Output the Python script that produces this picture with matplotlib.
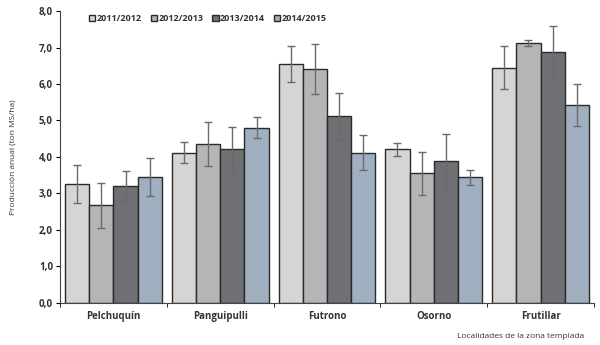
import matplotlib.pyplot as plt
import numpy as np

plt.rcParams['font.family'] = ['Open Sans', 'DejaVu Sans']

localidades = ['Pelchuquín', 'Panguipulli', 'Futrono', 'Osorno', 'Frutillar']
temporadas = ['2011/2012', '2012/2013', '2013/2014', '2014/2015']

v_2011 = [3.25, 4.12, 6.54, 4.21, 6.45]
v_2012 = [2.68, 4.36, 6.42, 3.55, 7.12]
v_2013 = [3.20, 4.21, 5.12, 3.88, 6.89]
v_2014 = [3.45, 4.80, 4.12, 3.44, 5.42]

e_2011 = [0.52, 0.29, 0.49, 0.18, 0.58]
e_2012 = [0.62, 0.60, 0.69, 0.60, 0.08]
e_2013 = [0.42, 0.60, 0.62, 0.76, 0.70]
e_2014 = [0.52, 0.29, 0.49, 0.20, 0.57]

valores = [v_2011, v_2012, v_2013, v_2014]
errores = [e_2011, e_2012, e_2013, e_2014]
colores = ['#d4d5d4', '#b3b5b6', '#6e7073', '#a0b0c0']

fig = plt.figure(figsize=(6, 3.45), dpi=100)
ax = fig.add_axes([0.1, 0.122, 0.89, 0.846])

x = np.arange(len(localidades))
w = 0.227
for i in range(4):
    pos = x + (i - 1.5) * w
    ax.bar(pos, valores[i], w, color=colores[i], edgecolor='#2a2a2a',
           linewidth=1.0, label=temporadas[i], zorder=2)
    ax.errorbar(pos, valores[i], yerr=errores[i], fmt='none', ecolor='#6a6a6a',
                elinewidth=1.0, capsize=3, capthick=1.0, zorder=3)

ax.set_xlim(-0.5, len(localidades) - 0.5)
ax.set_ylim(0, 8)
ax.set_yticks(np.arange(0, 8.1, 1))
ax.set_yticklabels([f'{t:.1f}'.replace('.', ',') for t in np.arange(0, 8.1, 1)],
                   fontsize=7, fontweight='bold', color='#333333')
ax.set_xticks(x)
ax.set_xticklabels(localidades, fontsize=7, fontweight='bold', color='#333333')
ax.tick_params(axis='x', length=0, pad=6)
ax.set_xticks(np.arange(-0.5, len(localidades), 1), minor=True)
ax.tick_params(axis='x', which='minor', length=3, direction='out')
ax.tick_params(axis='y', length=3, direction='out', pad=2)
for s in ['top', 'right']:
    ax.spines[s].set_visible(False)
ax.spines['left'].set_color('#444444')
ax.spines['bottom'].set_color('#444444')

ax.set_ylabel('Producción anual (ton MS/ha)', fontsize=6, color='#333333', labelpad=16)
fig.text(0.868, 0.026, 'Localidades de la zona templada', fontsize=6,
         color='#333333', ha='center', va='center')

leg = ax.legend(loc='center left', bbox_to_anchor=(0.054, 0.973), ncol=4, frameon=False,
                fontsize=6.5, handlelength=0.7, handleheight=0.7, borderpad=0,
                borderaxespad=0, handletextpad=0.15, columnspacing=1.0)
for t in leg.get_texts():
    t.set_fontweight('bold')
    t.set_color('#333333')

fig.savefig('out.png', dpi=100)
